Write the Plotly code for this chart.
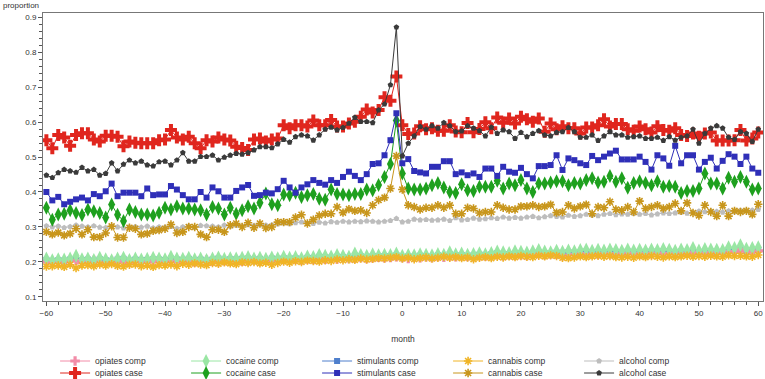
import plotly.graph_objects as go

months = list(range(-60, 61))

opiates_comp = [
    0.200,0.198,0.202,0.200,0.203,0.205,0.199,0.201,0.204,0.200,0.198,0.202,0.203,0.200,0.199,0.201,0.202,0.200,0.203,0.201,
    0.200,0.203,0.201,0.204,0.202,0.200,0.203,0.205,0.202,0.201,0.204,0.203,0.205,0.202,0.204,0.206,0.203,0.205,0.204,0.206,
    0.207,0.205,0.208,0.206,0.209,0.207,0.210,0.208,0.211,0.209,0.212,0.210,0.211,0.213,0.210,0.212,0.214,0.212,0.213,0.215,
    0.213,0.210,0.214,0.212,0.215,0.213,0.216,0.214,0.217,0.215,0.218,0.216,0.215,0.218,0.217,0.219,0.221,0.218,0.220,0.219,
    0.221,0.219,0.222,0.224,0.221,0.223,0.222,0.218,0.220,0.222,0.224,0.221,0.223,0.222,0.225,0.223,0.224,0.222,0.226,0.224,
    0.223,0.225,0.224,0.226,0.223,0.225,0.224,0.226,0.225,0.228,0.226,0.224,0.227,0.225,0.228,0.230,0.229,0.236,0.231,0.229,0.232]

opiates_case = [
    0.548,0.525,0.563,0.556,0.532,0.563,0.568,0.568,0.550,0.544,0.561,0.561,0.558,0.531,0.544,0.541,0.539,0.539,0.539,0.548,
    0.550,0.577,0.556,0.550,0.558,0.539,0.525,0.548,0.544,0.556,0.550,0.547,0.529,0.526,0.520,0.550,0.553,0.544,0.550,0.553,
    0.591,0.582,0.591,0.591,0.587,0.604,0.591,0.591,0.606,0.587,0.587,0.596,0.601,0.615,0.636,0.627,0.634,0.671,0.661,0.730,
    0.591,0.566,0.567,0.588,0.579,0.582,0.575,0.575,0.591,0.573,0.571,0.597,0.571,0.580,0.599,0.582,0.613,0.598,0.610,0.596,
    0.615,0.608,0.601,0.610,0.572,0.596,0.579,0.588,0.582,0.582,0.567,0.584,0.584,0.591,0.608,0.587,0.594,0.594,0.579,0.575,
    0.587,0.579,0.570,0.588,0.577,0.575,0.582,0.563,0.560,0.567,0.558,0.567,0.570,0.547,0.547,0.547,0.548,0.577,0.547,0.553,0.570]

cocaine_comp = [
    0.210,0.205,0.208,0.207,0.210,0.218,0.208,0.210,0.206,0.212,0.208,0.205,0.210,0.212,0.206,0.210,0.207,0.209,0.212,0.210,
    0.208,0.215,0.210,0.209,0.212,0.208,0.210,0.206,0.210,0.213,0.209,0.211,0.210,0.212,0.214,0.210,0.212,0.209,0.213,0.211,
    0.215,0.212,0.214,0.211,0.216,0.214,0.220,0.218,0.216,0.220,0.218,0.215,0.224,0.220,0.218,0.222,0.219,0.221,0.220,0.224,
    0.218,0.220,0.219,0.222,0.221,0.219,0.223,0.221,0.228,0.222,0.224,0.221,0.223,0.225,0.222,0.226,0.230,0.228,0.226,0.231,
    0.229,0.227,0.231,0.234,0.230,0.228,0.232,0.229,0.233,0.231,0.234,0.236,0.232,0.235,0.233,0.236,0.234,0.232,0.236,0.233,
    0.235,0.233,0.236,0.234,0.237,0.235,0.232,0.236,0.234,0.240,0.233,0.237,0.236,0.235,0.234,0.242,0.240,0.248,0.238,0.240,0.242]

cocaine_case = [
    0.355,0.321,0.336,0.338,0.348,0.340,0.334,0.350,0.345,0.340,0.327,0.364,0.335,0.317,0.350,0.343,0.336,0.336,0.333,0.341,
    0.355,0.350,0.359,0.353,0.353,0.350,0.348,0.336,0.357,0.353,0.336,0.355,0.338,0.348,0.359,0.353,0.369,0.396,0.365,0.362,
    0.393,0.391,0.398,0.386,0.391,0.394,0.381,0.378,0.407,0.394,0.393,0.391,0.394,0.394,0.407,0.405,0.420,0.443,0.480,0.604,
    0.453,0.410,0.407,0.407,0.410,0.419,0.426,0.413,0.400,0.397,0.422,0.405,0.403,0.415,0.415,0.415,0.432,0.410,0.424,0.419,
    0.434,0.410,0.400,0.424,0.424,0.427,0.431,0.431,0.419,0.426,0.424,0.434,0.439,0.427,0.429,0.446,0.429,0.439,0.412,0.426,
    0.431,0.426,0.419,0.431,0.415,0.417,0.415,0.397,0.403,0.403,0.410,0.453,0.424,0.424,0.410,0.441,0.429,0.443,0.429,0.407,0.410]

stimulants_comp = [
    0.206,0.203,0.205,0.204,0.207,0.210,0.205,0.207,0.204,0.208,0.205,0.203,0.207,0.209,0.204,0.207,0.205,0.206,0.208,0.207,
    0.205,0.210,0.207,0.206,0.209,0.205,0.207,0.204,0.207,0.210,0.206,0.208,0.207,0.209,0.210,0.207,0.209,0.206,0.210,0.208,
    0.211,0.209,0.211,0.208,0.212,0.211,0.215,0.214,0.212,0.215,0.214,0.212,0.218,0.216,0.214,0.217,0.215,0.217,0.216,0.219,
    0.214,0.216,0.215,0.218,0.217,0.215,0.219,0.217,0.222,0.218,0.220,0.217,0.219,0.221,0.218,0.222,0.225,0.223,0.222,0.226,
    0.224,0.222,0.226,0.228,0.225,0.223,0.227,0.224,0.228,0.226,0.228,0.230,0.227,0.229,0.228,0.230,0.229,0.227,0.230,0.228,
    0.229,0.228,0.230,0.229,0.231,0.230,0.227,0.230,0.229,0.233,0.228,0.231,0.230,0.229,0.229,0.235,0.233,0.238,0.232,0.233,0.235]

stimulants_case = [
    0.400,0.376,0.386,0.365,0.372,0.379,0.384,0.376,0.394,0.388,0.402,0.424,0.388,0.398,0.398,0.398,0.388,0.410,0.391,0.393,
    0.393,0.417,0.407,0.391,0.379,0.379,0.400,0.384,0.413,0.402,0.384,0.384,0.403,0.413,0.420,0.389,0.391,0.398,0.396,0.408,
    0.432,0.413,0.398,0.413,0.422,0.434,0.426,0.421,0.434,0.426,0.443,0.458,0.446,0.434,0.451,0.480,0.482,0.505,0.548,0.625,
    0.482,0.494,0.460,0.456,0.453,0.472,0.472,0.488,0.488,0.451,0.456,0.448,0.453,0.443,0.467,0.467,0.446,0.472,0.458,0.455,
    0.469,0.451,0.439,0.474,0.474,0.477,0.505,0.463,0.496,0.491,0.482,0.477,0.503,0.491,0.501,0.510,0.518,0.493,0.493,0.493,
    0.501,0.486,0.464,0.505,0.496,0.475,0.532,0.482,0.505,0.505,0.464,0.486,0.498,0.467,0.489,0.508,0.501,0.480,0.501,0.467,0.455]

cannabis_comp = [
    0.187,0.188,0.190,0.186,0.192,0.183,0.190,0.191,0.188,0.193,0.190,0.194,0.189,0.187,0.192,0.193,0.188,0.190,0.186,0.191,
    0.190,0.193,0.188,0.195,0.192,0.196,0.193,0.191,0.197,0.195,0.199,0.196,0.194,0.199,0.197,0.200,0.196,0.198,0.192,0.197,
    0.201,0.198,0.202,0.200,0.204,0.203,0.201,0.205,0.203,0.207,0.205,0.208,0.206,0.210,0.207,0.209,0.211,0.210,0.212,0.214,
    0.210,0.212,0.208,0.211,0.213,0.210,0.212,0.215,0.212,0.214,0.211,0.213,0.208,0.212,0.214,0.211,0.215,0.213,0.216,0.214,
    0.217,0.215,0.214,0.218,0.216,0.219,0.217,0.212,0.211,0.213,0.216,0.214,0.216,0.218,0.215,0.217,0.214,0.213,0.215,0.212,
    0.216,0.214,0.217,0.215,0.213,0.216,0.214,0.216,0.218,0.215,0.217,0.215,0.218,0.216,0.215,0.219,0.217,0.218,0.216,0.215,0.220]

cannabis_case = [
    0.286,0.279,0.284,0.276,0.281,0.295,0.279,0.292,0.271,0.271,0.283,0.302,0.270,0.270,0.298,0.295,0.279,0.281,0.289,0.291,
    0.295,0.307,0.283,0.286,0.300,0.300,0.279,0.271,0.292,0.292,0.286,0.305,0.310,0.300,0.312,0.298,0.310,0.297,0.300,0.314,
    0.314,0.314,0.327,0.335,0.310,0.321,0.333,0.338,0.338,0.357,0.341,0.351,0.346,0.348,0.340,0.362,0.377,0.384,0.410,0.503,
    0.407,0.362,0.357,0.350,0.355,0.355,0.362,0.355,0.362,0.338,0.338,0.355,0.353,0.340,0.343,0.343,0.362,0.355,0.350,0.350,
    0.359,0.359,0.362,0.357,0.359,0.364,0.341,0.343,0.362,0.353,0.359,0.364,0.338,0.357,0.355,0.372,0.350,0.348,0.357,0.343,
    0.374,0.353,0.357,0.362,0.353,0.357,0.367,0.346,0.369,0.340,0.333,0.362,0.343,0.331,0.362,0.331,0.346,0.343,0.346,0.336,0.365]

alcohol_comp = [
    0.303,0.300,0.302,0.298,0.301,0.305,0.302,0.300,0.303,0.299,0.298,0.302,0.300,0.297,0.300,0.301,0.299,0.302,0.297,0.300,
    0.299,0.301,0.296,0.300,0.303,0.298,0.304,0.303,0.302,0.300,0.305,0.302,0.305,0.303,0.306,0.304,0.307,0.305,0.306,0.308,
    0.311,0.309,0.312,0.314,0.311,0.310,0.313,0.311,0.315,0.313,0.316,0.314,0.316,0.315,0.317,0.316,0.314,0.316,0.318,0.324,
    0.314,0.316,0.322,0.320,0.321,0.319,0.320,0.322,0.318,0.326,0.320,0.321,0.325,0.322,0.323,0.326,0.324,0.328,0.325,0.327,
    0.325,0.328,0.330,0.326,0.329,0.332,0.330,0.328,0.333,0.330,0.332,0.336,0.334,0.332,0.336,0.338,0.335,0.337,0.336,0.338,
    0.336,0.338,0.334,0.337,0.340,0.338,0.340,0.342,0.339,0.341,0.345,0.343,0.346,0.344,0.342,0.346,0.344,0.347,0.346,0.348,0.350]

alcohol_case = [
    0.448,0.441,0.455,0.464,0.460,0.456,0.470,0.460,0.464,0.448,0.453,0.483,0.460,0.479,0.491,0.483,0.488,0.477,0.474,0.486,
    0.488,0.477,0.491,0.512,0.488,0.488,0.501,0.501,0.505,0.491,0.499,0.505,0.510,0.508,0.512,0.520,0.529,0.529,0.526,0.537,
    0.550,0.542,0.558,0.563,0.560,0.548,0.563,0.579,0.585,0.577,0.584,0.596,0.613,0.601,0.601,0.598,0.634,0.651,0.706,0.871,
    0.503,0.539,0.560,0.587,0.579,0.589,0.582,0.598,0.589,0.572,0.574,0.589,0.582,0.575,0.560,0.585,0.567,0.577,0.572,0.553,
    0.570,0.558,0.567,0.575,0.563,0.560,0.570,0.572,0.584,0.572,0.556,0.556,0.563,0.547,0.560,0.572,0.563,0.563,0.556,0.558,
    0.560,0.553,0.553,0.556,0.547,0.558,0.548,0.556,0.560,0.579,0.539,0.567,0.582,0.589,0.582,0.556,0.550,0.572,0.567,0.544,0.579]

x_ticks = [-60, -50, -40, -30, -20, -10, 0, 10, 20, 30, 40, 50, 60]
y_ticks = [0.1, 0.2, 0.3, 0.4, 0.5, 0.6, 0.7, 0.8, 0.9]

# (name, values, color, symbol, size, legend, legendrank) in drawing order
series = [
    ("stimulants comp", stimulants_comp, "#4F7FCC", "square", 6, "legend", 3),
    ("opiates comp", opiates_comp, "#F28CA8", "cross", 8, "legend", 1),
    ("cocaine comp", cocaine_comp, "#9AE6A4", "diamond-tall", 10, "legend", 2),
    ("cannabis comp", cannabis_comp, "#F0B426", "asterisk-open", 7, "legend", 4),
    ("alcohol comp", alcohol_comp, "#BDBDBD", "pentagon", 6, "legend", 5),
    ("opiates case", opiates_case, "#E0261E", "cross", 10, "legend2", 6),
    ("cocaine case", cocaine_case, "#1EA01E", "diamond-tall", 10, "legend2", 7),
    ("stimulants case", stimulants_case, "#2F2FB8", "square", 6, "legend2", 8),
    ("cannabis case", cannabis_case, "#C8961C", "asterisk-open", 7, "legend2", 9),
    ("alcohol case", alcohol_case, "#3A3A3A", "pentagon", 6, "legend2", 10),
]

fig = go.Figure()
for name, vals, color, sym, size, leg, rank in series:
    assert len(vals) == len(months), name
    mk = dict(color=color, symbol=sym, size=size)
    if sym == "asterisk-open":
        mk["line"] = dict(color=color, width=1.6)
    else:
        mk["line"] = dict(width=0)
    fig.add_trace(go.Scatter(
        x=months, y=vals, name=name, mode="lines+markers",
        line=dict(color=color, width=1), marker=mk, legend=leg, legendrank=rank,
    ))

font = "Liberation Sans, Arial, sans-serif"
leg_common = dict(orientation="h", xref="container", yref="container", x=0.072, xanchor="left",
                  yanchor="middle", entrywidth=86, entrywidthmode="pixels",
                  font=dict(size=8.5, color="#333333"), itemwidth=30,
                  bgcolor="rgba(0,0,0,0)", borderwidth=0)
fig.update_layout(
    width=765, height=379,
    margin=dict(l=43, r=2, t=13, b=78),
    paper_bgcolor="white", plot_bgcolor="white",
    font=dict(family=font, size=8.5, color="#333333"),
    showlegend=True,
    legend=dict(y=1 - 361 / 379, **leg_common),
    legend2=dict(y=1 - 373 / 379, **leg_common),
    xaxis=dict(range=[-60.57, 60.8], tickvals=x_ticks, ticks="outside", ticklen=4,
               tickcolor="#555", showline=True, linecolor="#777", linewidth=1, mirror=True,
               showgrid=False, zeroline=False,
               minor=dict(dtick=2, tick0=0, ticks="outside", ticklen=3, tickcolor="#555"),
               title=dict(text="month", font=dict(size=8.5), standoff=19),
               tickfont=dict(size=8)),
    yaxis=dict(range=[0.0885, 0.9115], tickvals=y_ticks, ticktext=[f"{v:.1f}" for v in y_ticks],
               ticks="outside", ticklen=4, tickcolor="#555",
               showline=True, linecolor="#777", linewidth=1, mirror=True,
               showgrid=False, zeroline=False,
               minor=dict(dtick=0.02, tick0=0, ticks="outside", ticklen=3, tickcolor="#555"),
               tickfont=dict(size=8)),
)
fig.add_annotation(text="proportion", xref="paper", yref="paper", x=-0.059, y=1.0,
                   xanchor="left", yanchor="bottom", showarrow=False, yshift=1,
                   font=dict(size=8, color="#333333"))

fig.write_html("out.html", config={"displayModeBar": False},
               post_script="document.body.style.margin='0';document.body.style.overflow='hidden';")
